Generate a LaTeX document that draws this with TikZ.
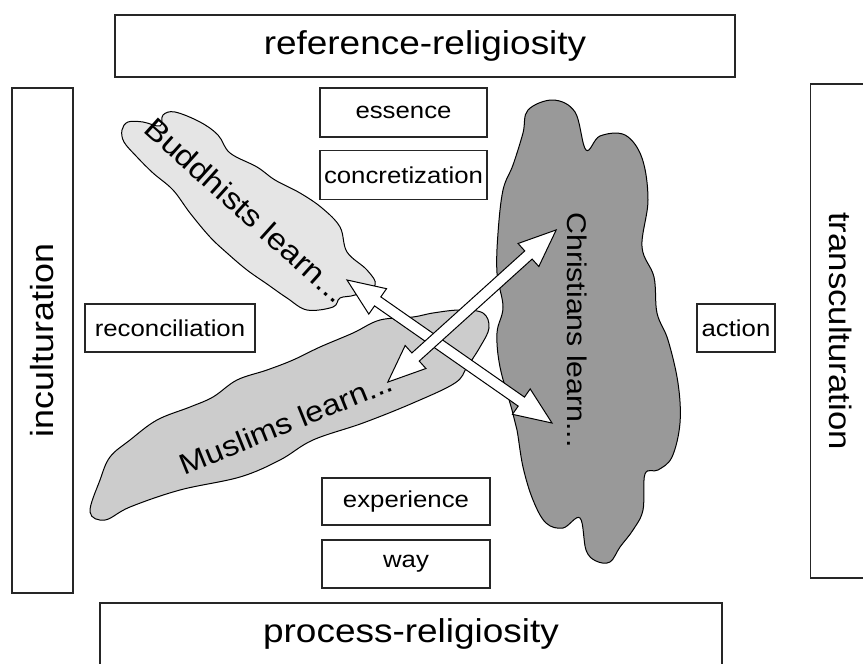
\documentclass[tikz,border=0pt]{standalone}
\usepackage{fontspec}
\setmainfont{Liberation Sans}[FakeStretch=1.12]
\usetikzlibrary{shapes.arrows}

\tikzset{
  frame/.style={draw=black!85, line width=1.3pt, inner sep=0pt, font=\fontsize{33}{38}\selectfont},
  keybox/.style={draw=black!85, line width=1.3pt, inner sep=0pt, font=\fontsize{23}{28}\selectfont},
  cloudline/.style={draw=black, line width=1pt},
  cloudtext/.style={inner sep=0pt, font=\fontsize{30}{36}\selectfont},
  blockarrow/.style={double arrow, draw=black, fill=white, line width=1pt,
    inner xsep=0pt, inner ysep=5pt, double arrow head extend=10pt, double arrow tip angle=45}
}

\begin{document}
\begin{tikzpicture}[x=1pt, y=-1pt]
  \useasboundingbox (0,0) rectangle (863,664);

  % outer frames
  \node[frame, minimum width=620pt, minimum height=62pt] (refrel) at (425,46) {reference-religiosity};
  \node[frame, minimum width=622pt, minimum height=62pt] (procrel) at (411,634) {process-religiosity};
  \node[frame, rotate=90, minimum width=505pt, minimum height=61pt, font=\fontsize{32}{38}\selectfont] (incult) at (42.5,340.5) {inculturation};
  \node[frame, rotate=-90, minimum width=494pt, minimum height=61pt, font=\fontsize{31}{36}\selectfont] (transcult) at (841,331) {transculturation};

  % key words
  \node[keybox, minimum width=167pt, minimum height=49pt] (essence) at (403.5,112.5) {essence};
  \node[keybox, minimum width=167pt, minimum height=49pt] (concr) at (403.5,175) {concretization};
  \node[keybox, minimum width=170pt, minimum height=48pt] (recon) at (170,328) {reconciliation};
  \node[keybox, minimum width=78pt, minimum height=48pt] (action) at (736,328) {action};
  \node[keybox, minimum width=168pt, minimum height=47pt] (exper) at (406,501.5) {experience};
  \node[keybox, minimum width=168pt, minimum height=48pt] (way) at (406,564) {way};

  % clouds
  \draw[cloudline, fill=black!10] plot[smooth cycle, tension=0.6] coordinates {
    (122,130) (128,122) (143,122) (160,126) (163,115) (175,112) (200,122) (218,135)
    (230,153) (257,167) (275,180) (300,193) (322,208) (340,227) (347,252) (367,270)
    (375,285) (355,295) (340,298) (333,307) (307,310) (287,298) (267,284) (247,270)
    (227,253) (210,237) (190,213) (173,190) (153,173) (137,157) (124,142)};
  \draw[cloudline, fill=black!20] plot[smooth cycle, tension=0.6] coordinates {
    (90,512) (100,480) (110,457) (130,440) (157,420) (190,407) (213,397) (237,380)
    (267,370) (293,360) (320,347) (353,333) (380,320) (413,317) (433,313) (460,310)
    (483,313) (489,328) (480,347) (467,367) (455,383) (413,403) (363,423) (313,440)
    (280,460) (240,477) (180,490) (130,507) (105,520)};
  \draw[cloudline, fill=black!40] plot[smooth cycle, tension=0.6] coordinates {
    (523,133) (528,110) (553,100) (575,112) (586,150) (600,136) (625,135) (642,158)
    (648,200) (642,247) (654,277) (657,313) (668,340) (678,383) (680,423) (672,457)
    (658,470) (645,474) (643,510) (633,530) (620,547) (610,562) (596,561) (586,550)
    (580,518) (563,528) (546,523) (533,500) (523,467) (517,430) (512,410) (500,367)
    (497,333) (503,307) (497,273) (498,233) (503,190) (513,165)};

  % exchange arrows
  \node[blockarrow, minimum height=250pt, rotate=-34.9] (budchr) at (449.5,351.5) {};
  \node[blockarrow, minimum height=227pt, rotate=42.1] (muschr) at (472,306) {};

  % cloud labels
  \node[cloudtext, rotate=-42] (budtxt) at (246,210) {Buddhists learn...};
  \node[cloudtext, rotate=22, font=\fontsize{29}{34}\selectfont] (mustxt) at (286,423) {Muslims learn...};
  \node[cloudtext, rotate=-90, font=\fontsize{27}{32}\selectfont] (chrtxt) at (577,330) {Christians learn...};
\end{tikzpicture}
\end{document}
